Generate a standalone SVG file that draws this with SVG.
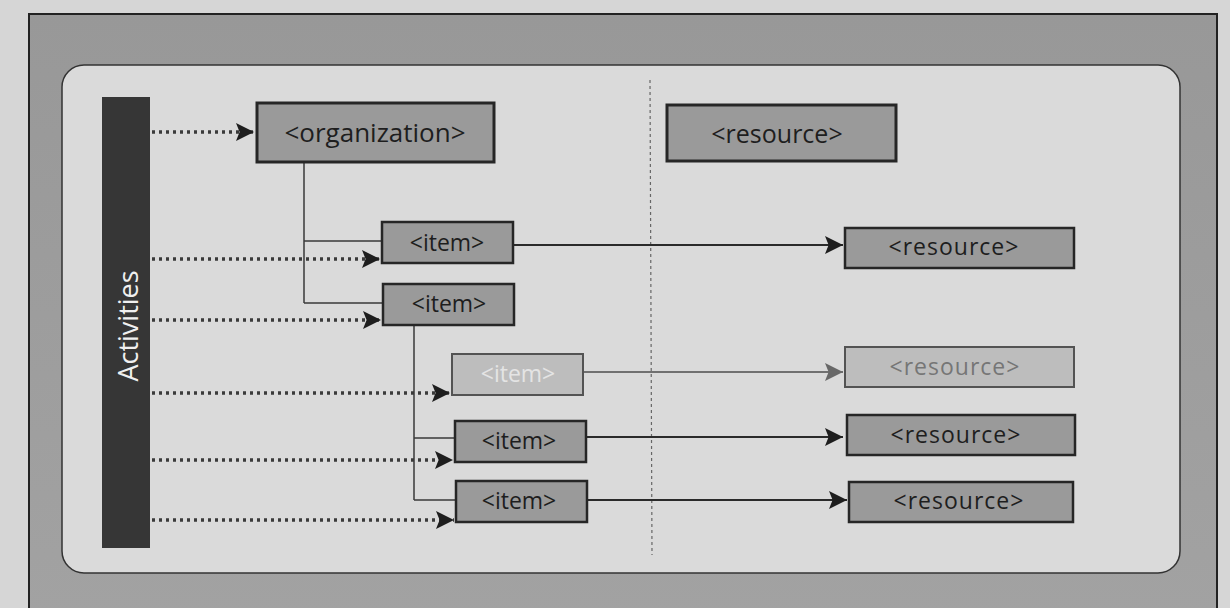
<svg xmlns="http://www.w3.org/2000/svg" width="1230" height="608" viewBox="0 0 1230 608">
<defs>
<style>
.box{fill:#9a9a9a;stroke:#262626;stroke-width:3}
.lbl{font-family:"Open Sans","Noto Sans",sans-serif;fill:#1e1e1e;text-anchor:middle;dominant-baseline:central}
.tree{fill:none;stroke:#3a3a3a;stroke-width:1.5}
.dot{fill:none;stroke:#3a3a3a;stroke-width:3.5;stroke-dasharray:3 4}
.solid{fill:none;stroke:#2a2a2a;stroke-width:2}
</style>
<marker id="ah" viewBox="0 0 10 10" refX="10" refY="5" markerWidth="18" markerHeight="18" markerUnits="userSpaceOnUse" orient="auto">
<path d="M0,0 L10,5 L0,10 L2,5 Z" fill="#1e1e1e"/>
</marker>
<linearGradient id="frame" x1="0" y1="0" x2="0" y2="1">
<stop offset="0" stop-color="#989898"/>
<stop offset="1" stop-color="#a2a2a2"/>
</linearGradient>
</defs>
<rect x="0" y="0" width="1230" height="608" fill="#d6d6d6"/>
<rect x="29" y="14" width="1188" height="600" fill="url(#frame)" stroke="#222" stroke-width="2"/>
<rect x="62" y="65" width="1118" height="508" rx="22" ry="22" fill="#dadada" stroke="#333" stroke-width="1.5"/>
<line x1="650" y1="80" x2="652" y2="555" stroke="#666" stroke-width="1.2" stroke-dasharray="3 3"/>

<g id="activities">
<rect x="102" y="97" width="48" height="451" fill="#363636"/>
<text class="lbl" transform="translate(127,326) rotate(-90)" font-size="27" style="fill:#f0f0f0">Activities</text>
</g>

<g id="connectors">
<path class="tree" d="M304,163 V303 M304,241 H382 M304,303 H383"/>
<path class="tree" d="M414,326 V500 M414,438 H455 M414,500 H456"/>
<path class="dot" d="M152,132 H254" marker-end="url(#ah)"/>
<path class="dot" d="M152,259 H380" marker-end="url(#ah)"/>
<path class="dot" d="M152,320 H381" marker-end="url(#ah)"/>
<path class="dot" d="M152,393 H450" marker-end="url(#ah)"/>
<path class="dot" d="M152,460 H453" marker-end="url(#ah)"/>
<path class="dot" d="M152,520 H454" marker-end="url(#ah)"/>
<path class="solid" d="M514,245 H843" marker-end="url(#ah)"/>
<path class="solid" d="M584,372 H843" marker-end="url(#ah)" opacity="0.6"/>
<path class="solid" d="M586,437 H843" marker-end="url(#ah)"/>
<path class="solid" d="M587,500 H847" marker-end="url(#ah)"/>
</g>

<g id="organization">
<rect class="box" x="257" y="103" width="237" height="59"/>
<text class="lbl" x="375" y="132" font-size="26">&lt;organization&gt;</text>
</g>
<g id="resource-top">
<rect class="box" x="667" y="105" width="229" height="56"/>
<text class="lbl" x="777" y="133" font-size="25">&lt;resource&gt;</text>
</g>
<g id="item1">
<rect class="box" x="382" y="222" width="131" height="41" style="stroke-width:2.5"/>
<text class="lbl" x="447" y="242" font-size="23">&lt;item&gt;</text>
</g>
<g id="item2">
<rect class="box" x="383" y="284" width="131" height="41" style="stroke-width:2.5"/>
<text class="lbl" x="449" y="303" font-size="23">&lt;item&gt;</text>
</g>
<g id="item3" opacity="0.75">
<rect class="box" x="452" y="354" width="131" height="41" style="stroke-width:2;fill:#b4b4b4"/>
<text class="lbl" x="518" y="373" font-size="23" style="fill:#e8e8e8">&lt;item&gt;</text>
</g>
<g id="item4">
<rect class="box" x="455" y="421" width="131" height="41" style="stroke-width:2.5"/>
<text class="lbl" x="519" y="440" font-size="23">&lt;item&gt;</text>
</g>
<g id="item5">
<rect class="box" x="456" y="481" width="131" height="41" style="stroke-width:2.5"/>
<text class="lbl" x="519" y="500" font-size="23">&lt;item&gt;</text>
</g>
<g id="resource1">
<rect class="box" x="845" y="228" width="229" height="40" style="stroke-width:2.5"/>
<text class="lbl" x="954" y="246" font-size="23" letter-spacing="1">&lt;resource&gt;</text>
</g>
<g id="resource2" opacity="0.75">
<rect class="box" x="845" y="347" width="229" height="40" style="stroke-width:2;fill:#b4b4b4"/>
<text class="lbl" x="955" y="366" font-size="23" letter-spacing="1" style="fill:#555">&lt;resource&gt;</text>
</g>
<g id="resource3">
<rect class="box" x="847" y="415" width="228" height="40" style="stroke-width:2.5"/>
<text class="lbl" x="956" y="434" font-size="23" letter-spacing="1">&lt;resource&gt;</text>
</g>
<g id="resource4">
<rect class="box" x="849" y="482" width="224" height="40" style="stroke-width:2.5"/>
<text class="lbl" x="959" y="500" font-size="23" letter-spacing="1">&lt;resource&gt;</text>
</g>
</svg>
